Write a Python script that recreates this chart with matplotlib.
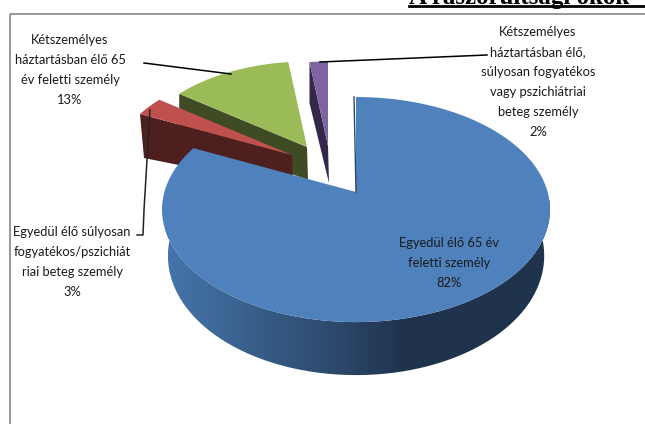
import numpy as np
import matplotlib
matplotlib.use("Agg")
import matplotlib.pyplot as plt
from matplotlib.patches import Polygon, Rectangle
from matplotlib.path import Path
from matplotlib.patches import PathPatch
from matplotlib.colors import LinearSegmentedColormap

# szeletek (az oramutato jarasaval, felulrol indulva)
labels = [
    "Egyedül élő 65 év\nfeletti személy\n82%",
    "Egyedül élő súlyosan\nfogyatékos/pszichiát\nriai beteg személy\n3%",
    "Kétszemélyes\nháztartásban élő 65\név feletti személy\n13%",
    "Kétszemélyes\nháztartásban élő,\nsúlyosan fogyatékos\nvagy pszichiátriai\nbeteg személy\n2%",
]
values = [82, 3, 13, 2]
top_colors = ["#4f81bd", "#c0504d", "#9bbb59", "#8064a2"]
side_colors = ["#2c4766", "#4d1f1e", "#3f4b24", "#33284a"]

# pie geometry, in pixels of the 645x424 picture
apex = [(356, 192), (292, 155), (307, 147), (328, 146)]
scale = [1.0, 0.935, 0.90, 0.89]
rim_depth = [45, 44, 39, 41]
rim_shift = [0, 4, 0, 0]
apex_depth = [40, 33, 33, 37]
label_pos = [(449, 263), (72, 262), (70, 70), (538, 82)]

R = 191.6
S = 109.8
P = 0.156

plt.rcParams['font.family'] = ['Lato', 'DejaVu Sans']

fig = plt.figure(figsize=(6.45, 4.24), dpi=100)
ax = fig.add_axes([0, 0, 1, 1])
ax.set_xlim(0, 645)
ax.set_ylim(424, 0)
ax.axis("off")

ax.add_patch(Rectangle((9.5, 13.5), 700, 500, fill=False, ec="#868686", lw=1.2, zorder=1))


def rim(i, a0, a1, n=120):
    t = np.radians(np.linspace(a0, a1, n))
    u, v = np.sin(t), np.cos(t)
    w = 1 + P * v
    x = apex[i][0] + scale[i] * R * u / w
    y = apex[i][1] - scale[i] * S * v / w
    return x, y, v


fractions = np.cumsum([0] + values) / sum(values) * 360
# draw order: back slices first, blue last
for n, i in enumerate([3, 2, 1]):
    a0, a1 = fractions[i], fractions[i + 1]
    x, y, v = rim(i, a0, a1)
    ax_, ay = apex[i]
    z = 2 + n * 0.1
    # cut face seen from the right (the slice's counter-clockwise side)
    ax.add_patch(Polygon([(x[0], y[0]), (ax_, ay), (ax_ + 1, ay + apex_depth[i]),
                          (x[0] + rim_shift[i], y[0] + rim_depth[i])],
                         fc=side_colors[i], ec="none", zorder=z))
    ax.add_patch(Polygon(np.r_[[(ax_, ay)], np.c_[x, y]], fc=top_colors[i], ec="none", zorder=z + 0.01))

# blue slice: side with gradient, then top
x, y, v = rim(0, 0, fractions[1], 400)
depth = 45 - 8 * v
bx = 358 + (x - 358) * 0.97
by = y + depth
front = (v < 0.35)
side = np.r_[np.c_[x[front], y[front]], np.c_[bx[front], by[front]][::-1]]
clip = PathPatch(Path(np.r_[side, side[:1]]), transform=ax.transData, fc="none", ec="none")
ax.add_patch(clip)
cmap = LinearSegmentedColormap.from_list("side", [(0, "#4575ab"), (0.4, "#2f4d72"), (0.62, "#1f334d"), (1, "#1f334d")])
grad = ax.imshow(np.linspace(0, 1, 256)[None, :], cmap=cmap, extent=(165, 552, 380, 200),
                 aspect="auto", zorder=3)
grad.set_clip_path(clip)
ax.set_xlim(0, 645)
ax.set_ylim(424, 0)

ax.add_patch(Polygon(np.r_[[apex[0]], np.c_[x, y]], fc=top_colors[0], ec="none", zorder=4))
ax.plot([apex[0][0], apex[0][0] - 2], [apex[0][1], 97], color="#2c4766", lw=1, zorder=4.1)

# leader lines
ax.plot([144, 231], [63, 74], color="black", lw=1.1, zorder=5)
ax.plot([487, 320], [55, 62], color="black", lw=1.1, zorder=5)
ax.plot([150, 144, 143, 137], [110, 210, 235, 235], color="#222222", lw=1.1, zorder=5)

for i in range(4):
    ax.text(label_pos[i][0], label_pos[i][1], labels[i], ha="center", va="center",
            fontsize=9.3, color="#1a1a1a", linespacing=1.8, zorder=6)

# heading of the page, cut by the picture's top edge
ax.text(409, 4, "A rászorultsági okok", family="Liberation Serif", weight="bold",
        fontsize=18, color="black", va="baseline", clip_on=True, zorder=6)
ax.plot([409, 645], [5.5, 5.5], color="black", lw=2, zorder=6)

fig.savefig("out.png", dpi=100)
